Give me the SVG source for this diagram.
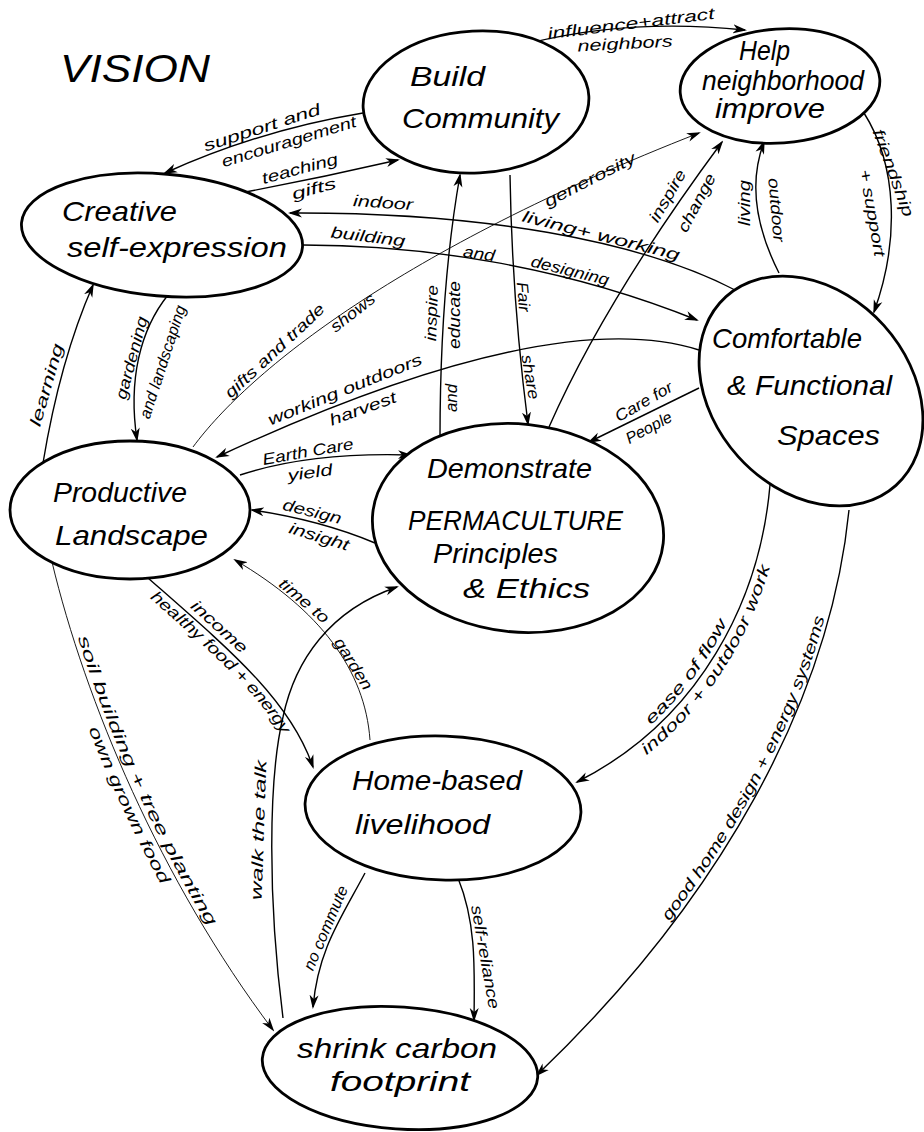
<svg xmlns="http://www.w3.org/2000/svg" xmlns:xlink="http://www.w3.org/1999/xlink" width="924" height="1132" viewBox="0 0 924 1132">
<style>
.bg{fill:#fff}
.nd{fill:#fff;stroke:#000;stroke-width:2.8}
.nt{font-family:"Liberation Sans",Arial,sans-serif;font-style:italic;font-size:28px;fill:#000}
.c{fill:none;stroke:#000;stroke-width:1.4;marker-end:url(#ah)}
.thin{stroke-width:0.9}
.lb{font-family:"Liberation Sans",Arial,sans-serif;font-style:italic;font-size:16px;fill:#000;text-anchor:middle}
.lp{font-family:"Liberation Sans",Arial,sans-serif;font-style:italic;font-size:16px;fill:#000}
</style>
<defs>
<marker id="ah" viewBox="0 0 14 10" refX="12" refY="5" markerWidth="14" markerHeight="10" markerUnits="userSpaceOnUse" orient="auto"><path d="M0,0.5 L14,5 L0,9.5 L4,5 Z" fill="#000"/></marker>
<path id="rV" d="M577,782 C700,720 760,600 770,485"/>
<path id="rW" d="M537,1075 C720,900 830,700 849,510"/>
<path id="pSoil" d="M56,560 C89,698 164,878 277,1028"/>
<path id="pOwn" d="M37,568 C70,706 145,886 258,1036"/>
</defs>
<rect class="bg" x="0" y="0" width="924" height="1132"/>
<text x="60" y="82" font-family="Liberation Sans,Arial,sans-serif" font-style="italic" font-size="38" textLength="150" lengthAdjust="spacingAndGlyphs">VISION</text>

<g id="connectors">
<path id="cA" class="c" d="M363,113 Q260,130 165,173"/>
<path id="cB" class="c" d="M240,193 Q320,178 398,160"/>
<path id="cC" class="c" d="M737,291 C640,240 480,212 290,213"/>
<path id="cD" class="c" d="M303,245 C420,245 560,265 697,320"/>
<path id="cE" class="c" d="M530,43 Q630,18 745,30"/>
<path id="cF" class="c" d="M864,113 C897,165 900,240 874,312"/>
<path id="cG" class="c" d="M779,273 Q742,200 764,142"/>
<path id="cH" class="c" d="M510,175 Q512,300 528,424"/>
<path id="cI" class="c" d="M440,438 C440,350 445,260 460,175"/>
<path id="cJ" class="c" d="M549,427 Q605,300 722,142"/>
<path id="cK" class="c thin" d="M193,447 C250,370 400,250 699,133"/>
<path id="cL" class="c" d="M699,350 C620,325 480,335 217,457"/>
<path id="cM" class="c" d="M240,475 Q310,452 410,455"/>
<path id="cN" class="c" d="M375,543 Q320,520 252,510"/>
<path id="cO" class="c" d="M699,388 L589,442"/>
<path id="cP" class="c" d="M168,295 C140,330 128,380 137,440"/>
<path id="cQ" class="c" d="M43,463 Q60,360 93,285"/>
<path id="cR" class="c" d="M148,578 C230,650 290,700 313,767"/>
<path id="cS" class="c thin" d="M370,740 C365,670 320,610 235,560"/>
<path id="cT" class="c" d="M283,1018 C268,900 268,780 283,717 C295,660 330,610 397,587"/>
<path id="cU" class="c thin" d="M52,562 C85,700 160,880 273,1030"/>
<path id="cV" class="c" d="M770,485 C760,600 700,720 577,782"/>
<path id="cW" class="c" d="M849,510 C830,700 720,900 537,1075"/>
<path id="cX" class="c" d="M365,873 C340,920 318,950 313,1007"/>
<path id="cY" class="c" d="M458,878 C475,920 475,960 474,1020"/>
</g>

<g id="labels">
<text class="lb" transform="translate(262,128) rotate(-18)" y="5" textLength="122" lengthAdjust="spacingAndGlyphs">support and</text>
<text class="lb" transform="translate(289,142) rotate(-17)" y="5" textLength="140" lengthAdjust="spacingAndGlyphs">encouragement</text>
<text class="lb" transform="translate(300,169) rotate(-15)" y="5" textLength="78" lengthAdjust="spacingAndGlyphs">teaching</text>
<text class="lb" transform="translate(314,189) rotate(-15)" y="5" textLength="45" lengthAdjust="spacingAndGlyphs">gifts</text>
<text class="lb" transform="translate(383,203) rotate(4)" y="5" textLength="60" lengthAdjust="spacingAndGlyphs">indoor</text>
<text class="lb" transform="translate(601,236) rotate(14)" y="5" textLength="162" lengthAdjust="spacingAndGlyphs">living+ working</text>
<text class="lb" transform="translate(368,237) rotate(7)" y="5" textLength="75" lengthAdjust="spacingAndGlyphs">building</text>
<text class="lb" transform="translate(479,254) rotate(8)" y="5" textLength="32" lengthAdjust="spacingAndGlyphs">and</text>
<text class="lb" transform="translate(570,271) rotate(14)" y="5" textLength="80" lengthAdjust="spacingAndGlyphs">designing</text>
<text class="lb" transform="translate(631,24) rotate(-7)" y="5" textLength="168" lengthAdjust="spacingAndGlyphs">influence+attract</text>
<text class="lb" transform="translate(625,44) rotate(-3)" y="5" textLength="95" lengthAdjust="spacingAndGlyphs">neighbors</text>
<text class="lb" transform="translate(893,173) rotate(70)" y="5" textLength="92" lengthAdjust="spacingAndGlyphs">friendship</text>
<text class="lb" transform="translate(872,213) rotate(80)" y="5" textLength="88" lengthAdjust="spacingAndGlyphs">+ support</text>
<text class="lb" transform="translate(776,210) rotate(85)" y="5" textLength="64" lengthAdjust="spacingAndGlyphs">outdoor</text>
<text class="lb" transform="translate(745,203) rotate(-90)" y="5" textLength="46" lengthAdjust="spacingAndGlyphs">living</text>
<text class="lb" transform="translate(523,297) rotate(85)" y="5" textLength="30" lengthAdjust="spacingAndGlyphs">Fair</text>
<text class="lb" transform="translate(530,377) rotate(80)" y="5" textLength="45" lengthAdjust="spacingAndGlyphs">share</text>
<text class="lb" transform="translate(432,313) rotate(-88)" y="5" textLength="56" lengthAdjust="spacingAndGlyphs">inspire</text>
<text class="lb" transform="translate(455,315) rotate(-90)" y="5" textLength="68" lengthAdjust="spacingAndGlyphs">educate</text>
<text class="lb" transform="translate(452,398) rotate(-90)" y="5" textLength="28" lengthAdjust="spacingAndGlyphs">and</text>
<text class="lb" transform="translate(668,196) rotate(-60)" y="5" textLength="58" lengthAdjust="spacingAndGlyphs">inspire</text>
<text class="lb" transform="translate(697,203) rotate(-62)" y="5" textLength="64" lengthAdjust="spacingAndGlyphs">change</text>
<text class="lb" transform="translate(275,351) rotate(-43)" y="5" textLength="130" lengthAdjust="spacingAndGlyphs">gifts and trade</text>
<text class="lb" transform="translate(353,313) rotate(-38)" y="5" textLength="52" lengthAdjust="spacingAndGlyphs">shows</text>
<text class="lb" transform="translate(590,180) rotate(-27)" y="5" textLength="100" lengthAdjust="spacingAndGlyphs">generosity</text>
<text class="lb" transform="translate(345,390) rotate(-22)" y="5" textLength="165" lengthAdjust="spacingAndGlyphs">working  outdoors</text>
<text class="lb" transform="translate(363,409) rotate(-20)" y="5" textLength="70" lengthAdjust="spacingAndGlyphs">harvest</text>
<text class="lb" transform="translate(308,452) rotate(-10)" y="5" textLength="92" lengthAdjust="spacingAndGlyphs">Earth Care</text>
<text class="lb" transform="translate(310,473) rotate(-8)" y="5" textLength="45" lengthAdjust="spacingAndGlyphs">yield</text>
<text class="lb" transform="translate(312,512) rotate(14)" y="5" textLength="60" lengthAdjust="spacingAndGlyphs">design</text>
<text class="lb" transform="translate(319,537) rotate(17)" y="5" textLength="62" lengthAdjust="spacingAndGlyphs">insight</text>
<text class="lb" transform="translate(644,402) rotate(-30)" y="5" textLength="64" lengthAdjust="spacingAndGlyphs">Care for</text>
<text class="lb" transform="translate(649,428) rotate(-28)" y="5" textLength="50" lengthAdjust="spacingAndGlyphs">People</text>
<text class="lb" transform="translate(132,358) rotate(-75)" y="5" textLength="85" lengthAdjust="spacingAndGlyphs">gardening</text>
<text class="lb" transform="translate(163,362) rotate(-72)" y="5" textLength="118" lengthAdjust="spacingAndGlyphs">and landscaping</text>
<text class="lb" transform="translate(47,385) rotate(-74)" y="5" textLength="85" lengthAdjust="spacingAndGlyphs">learning</text>
<text class="lb" transform="translate(219,627) rotate(42)" y="5" textLength="70" lengthAdjust="spacingAndGlyphs">income</text>
<text class="lb" transform="translate(304,601) rotate(40)" y="5" textLength="60" lengthAdjust="spacingAndGlyphs">time to</text>
<text class="lb" transform="translate(353,664) rotate(58)" y="5" textLength="58" lengthAdjust="spacingAndGlyphs">garden</text>
<text class="lb" transform="translate(259,830) rotate(-88)" y="5" textLength="140" lengthAdjust="spacingAndGlyphs">walk the talk</text>
<text class="lb" transform="translate(326,928) rotate(-67)" y="5" textLength="90" lengthAdjust="spacingAndGlyphs">no commute</text>
<text class="lb" transform="translate(485,957) rotate(80)" y="5" textLength="105" lengthAdjust="spacingAndGlyphs">self-reliance</text>
<text class="lp" dy="14"><textPath href="#cR" startOffset="44%" text-anchor="middle" textLength="195" lengthAdjust="spacingAndGlyphs">healthy food + energy</textPath></text>
<text class="lp"><textPath href="#pSoil" startOffset="46%" text-anchor="middle" textLength="318" lengthAdjust="spacingAndGlyphs">soil building  +  tree planting</textPath></text>
<text class="lp"><textPath href="#pOwn" startOffset="49%" text-anchor="middle" textLength="172" lengthAdjust="spacingAndGlyphs">own grown food</textPath></text>
<text class="lp" dy="-5"><textPath href="#rV" startOffset="43%" text-anchor="middle" textLength="130" lengthAdjust="spacingAndGlyphs">ease of flow</textPath></text>
<text class="lp" dy="15"><textPath href="#rV" startOffset="49%" text-anchor="middle" textLength="220" lengthAdjust="spacingAndGlyphs">indoor + outdoor work</textPath></text>
<text class="lp" dy="-4"><textPath href="#rW" startOffset="57%" text-anchor="middle" textLength="345" lengthAdjust="spacingAndGlyphs">good home design + energy systems</textPath></text>
</g>

<g id="build">
<ellipse class="nd" cx="476" cy="102" rx="113" ry="71" transform="rotate(-3 476 102)"/>
<text class="nt" x="410" y="86" font-size="30" textLength="75" lengthAdjust="spacingAndGlyphs">Build</text>
<text class="nt" x="402" y="128" font-size="30" textLength="157" lengthAdjust="spacingAndGlyphs">Community</text>
</g>
<g id="help">
<ellipse class="nd" cx="780" cy="86" rx="100" ry="57" transform="rotate(-4 780 86)"/>
<text class="nt" x="739" y="60" font-size="26" textLength="51" lengthAdjust="spacingAndGlyphs">Help</text>
<text class="nt" x="702" y="90" font-size="26" textLength="162" lengthAdjust="spacingAndGlyphs">neighborhood</text>
<text class="nt" x="715" y="118" font-size="26" textLength="110" lengthAdjust="spacingAndGlyphs">improve</text>
</g>
<g id="creative">
<ellipse class="nd" cx="162" cy="235" rx="141" ry="61" transform="rotate(5 162 235)"/>
<text class="nt" x="62" y="221" textLength="115" lengthAdjust="spacingAndGlyphs">Creative</text>
<text class="nt" x="67" y="257" textLength="220" lengthAdjust="spacingAndGlyphs">self-expression</text>
</g>
<g id="comfortable">
<ellipse class="nd" cx="811" cy="391" rx="127" ry="98" transform="rotate(48 811 391)"/>
<text class="nt" x="712" y="348" textLength="150" lengthAdjust="spacingAndGlyphs">Comfortable</text>
<text class="nt" x="727" y="395" textLength="165" lengthAdjust="spacingAndGlyphs">&amp; Functional</text>
<text class="nt" x="777" y="445" textLength="103" lengthAdjust="spacingAndGlyphs">Spaces</text>
</g>
<g id="productive">
<ellipse class="nd" cx="130" cy="510" rx="120" ry="69"/>
<text class="nt" x="53" y="502" textLength="134" lengthAdjust="spacingAndGlyphs">Productive</text>
<text class="nt" x="55" y="545" textLength="153" lengthAdjust="spacingAndGlyphs">Landscape</text>
</g>
<g id="demonstrate">
<ellipse class="nd" cx="518" cy="528" rx="146" ry="104" transform="rotate(6 518 528)"/>
<text class="nt" x="427" y="478" font-size="27" textLength="165" lengthAdjust="spacingAndGlyphs">Demonstrate</text>
<text class="nt" x="408" y="530" font-size="27" textLength="215" lengthAdjust="spacingAndGlyphs">PERMACULTURE</text>
<text class="nt" x="433" y="563" font-size="27" textLength="125" lengthAdjust="spacingAndGlyphs">Principles</text>
<text class="nt" x="463" y="598" font-size="27" textLength="127" lengthAdjust="spacingAndGlyphs">&amp; Ethics</text>
</g>
<g id="home">
<ellipse class="nd" cx="443" cy="808" rx="138" ry="72" transform="rotate(2 443 808)"/>
<text class="nt" x="352" y="790" textLength="170" lengthAdjust="spacingAndGlyphs">Home-based</text>
<text class="nt" x="355" y="834" textLength="135" lengthAdjust="spacingAndGlyphs">livelihood</text>
</g>
<g id="shrink">
<ellipse class="nd" cx="400" cy="1068" rx="138" ry="61" transform="rotate(4 400 1068)"/>
<text class="nt" x="297" y="1058" textLength="200" lengthAdjust="spacingAndGlyphs">shrink carbon</text>
<text class="nt" x="330" y="1091" textLength="140" lengthAdjust="spacingAndGlyphs">footprint</text>
</g>
</svg>
